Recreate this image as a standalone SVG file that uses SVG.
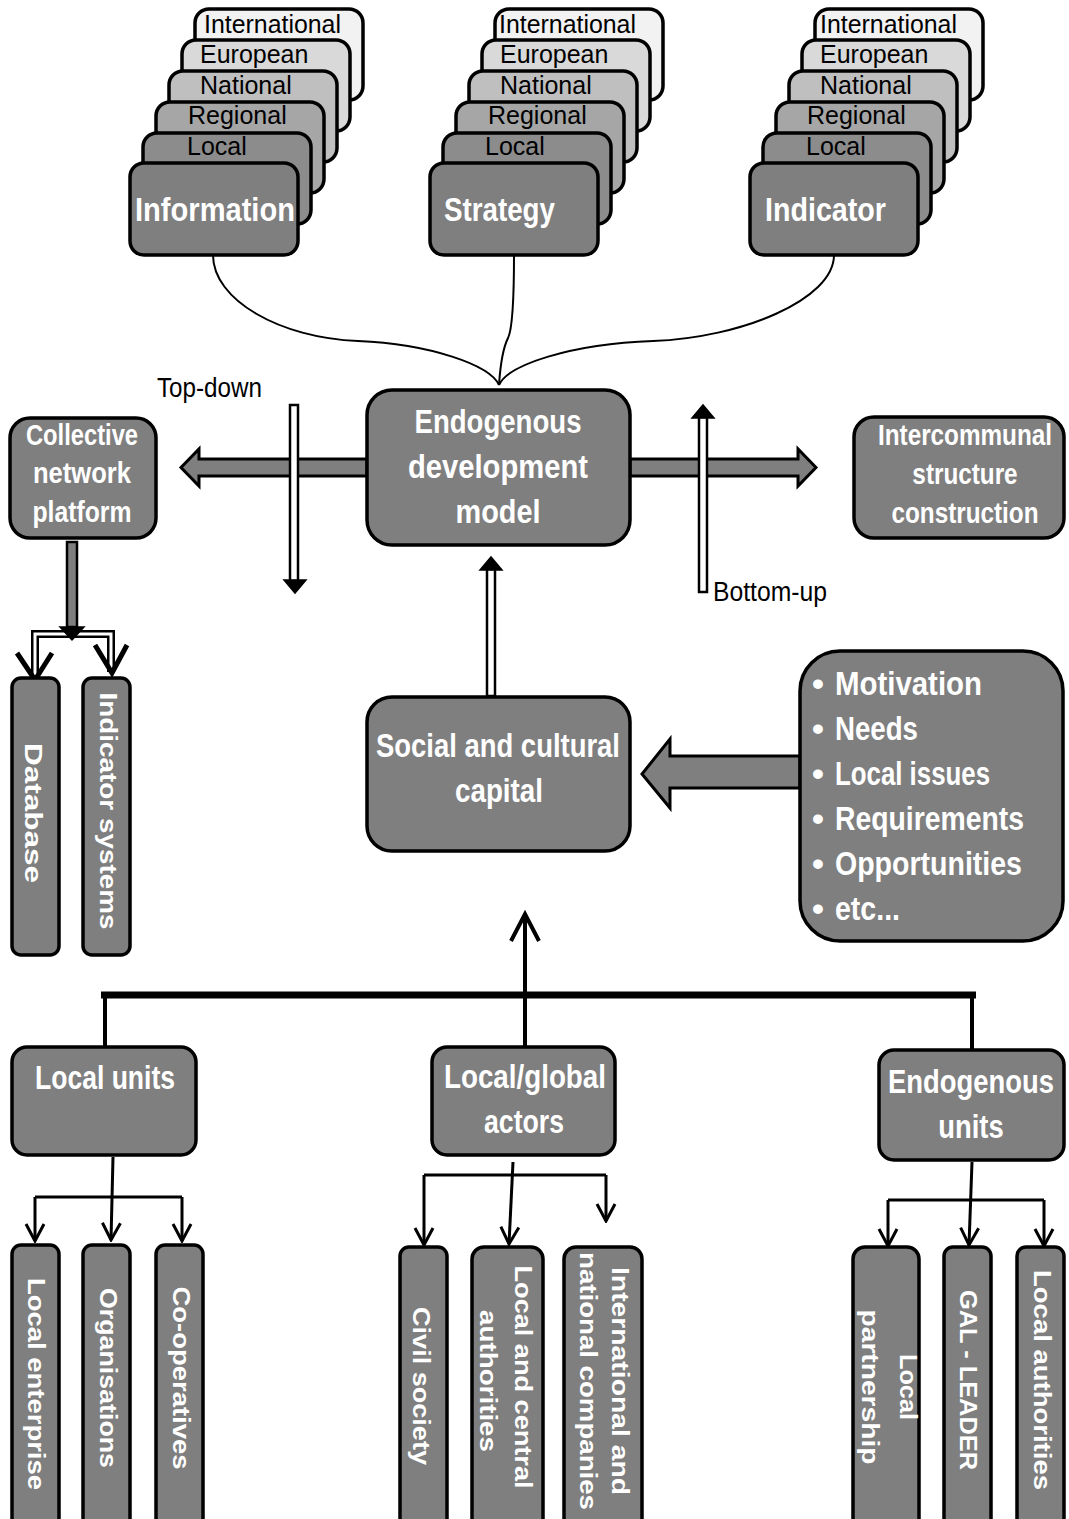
<svg xmlns="http://www.w3.org/2000/svg" width="1069" height="1519" viewBox="0 0 1069 1519">
<defs>
<style>
.box{fill:#7f7f7f;stroke:#000;stroke-width:3.5}
.lay{stroke:#000;stroke-width:3.5}
.wt{font-family:"Liberation Sans",Arial,sans-serif;font-weight:bold;fill:#fff;text-anchor:middle}
.ws{font-family:"Liberation Sans",Arial,sans-serif;font-weight:bold;fill:#fff;font-size:34px}
.lt{font-family:"Liberation Sans",Arial,sans-serif;fill:#000;font-size:25px}
.nt{font-family:"Liberation Sans",Arial,sans-serif;fill:#000;font-size:27px}
.rt{font-family:"Liberation Sans",Arial,sans-serif;font-weight:bold;fill:#fff;font-size:24px;text-anchor:middle}
.ln{fill:none;stroke:#000;stroke-width:3}
.cv{fill:none;stroke:#000;stroke-width:2}
.dbl{fill:#fff;stroke:#000;stroke-width:2.5}
.blk{fill:#7f7f7f;stroke:#000;stroke-width:3;stroke-linejoin:miter}
.hd{fill:#000;stroke:#000;stroke-width:1.5;stroke-linejoin:miter}
.ch5{fill:none;stroke:#000;stroke-width:5;stroke-linejoin:miter}
</style>
<marker id="chev" viewBox="-20 -12 22 24" markerWidth="22" markerHeight="24" refX="0" refY="0" orient="auto" markerUnits="userSpaceOnUse">
<path d="M-17,-9 L0,0 L-17,9" fill="none" stroke="#000" stroke-width="3"/>
</marker>
</defs>
<rect width="1069" height="1519" fill="#fff"/>

<g id="connectors">
<path class="cv" d="M213,255 C213,300 280,338 358,341 C430,344 490,365 499,385"/>
<path class="cv" d="M514,255 C514,290 513,328 508,338 C502,350 500,370 499,385"/>
<path class="cv" d="M834,255 C834,300 740,338 653,341 C570,344 508,365 499,385"/>
<polygon class="blk" points="367,459 199,459 199,449 181,467.5 199,486 199,476 367,476"/>
<polygon class="blk" points="630,459 798,459 798,449 816,467.5 798,486 798,476 630,476"/>
<rect class="dbl" x="290" y="405" width="8" height="176"/>
<polygon class="hd" points="284,580 306,580 295,593"/>
<rect class="dbl" x="699" y="417" width="8" height="175"/>
<polygon class="hd" points="692,418 714,418 703,405"/>
<rect class="dbl" x="487" y="569" width="8" height="127"/>
<polygon class="hd" points="480,570 502,570 491,557"/>
<path d="M35,678 L35,634 L111,634 L111,672" fill="none" stroke="#000" stroke-width="8"/>
<path d="M35,678 L35,634 L111,634 L111,672" fill="none" stroke="#fff" stroke-width="3"/>
<rect x="67" y="542" width="10" height="85" fill="#7f7f7f" stroke="#000" stroke-width="2.5"/>
<polygon class="hd" points="60,627 84,627 72,640"/>
<path class="ch5" d="M17,653 L35,680 L52,653"/>
<path class="ch5" d="M95,645 L112,673 L127,645"/>
<polygon class="blk" points="800,756 670,756 670,739 642,774 670,808 670,788 800,788"/>
<line x1="101" y1="995" x2="976" y2="995" stroke="#000" stroke-width="7"/>
<line x1="105" y1="995" x2="105" y2="1047" stroke="#000" stroke-width="4"/>
<line x1="972" y1="995" x2="972" y2="1050" stroke="#000" stroke-width="4"/>
<line x1="525" y1="1047" x2="525" y2="916" stroke="#000" stroke-width="4"/>
<path d="M511,941 L525,914 L539,941" fill="none" stroke="#000" stroke-width="4"/>
<path class="ln" d="M113,1157 L111,1240" marker-end="url(#chev)"/>
<path class="ln" d="M35,1197 L182,1197"/>
<path class="ln" d="M35,1197 L35,1241" marker-end="url(#chev)"/>
<path class="ln" d="M182,1197 L182,1241" marker-end="url(#chev)"/>
<path class="ln" d="M513,1162 L509,1244" marker-end="url(#chev)"/>
<path class="ln" d="M424,1175 L606,1175"/>
<path class="ln" d="M424,1175 L424,1245" marker-end="url(#chev)"/>
<path class="ln" d="M606,1175 L606,1221" marker-end="url(#chev)"/>
<path class="ln" d="M972,1162 L969,1245" marker-end="url(#chev)"/>
<path class="ln" d="M888,1200 L1044,1200"/>
<path class="ln" d="M888,1200 L888,1246" marker-end="url(#chev)"/>
<path class="ln" d="M1044,1200 L1044,1246" marker-end="url(#chev)"/>
</g>

<g id="stack-information" transform="translate(130,0)">
<rect class="lay" x="65" y="9" width="168" height="91" rx="14" fill="#f2f2f2"/>
<text class="lt" x="74" y="33" textLength="137" lengthAdjust="spacingAndGlyphs">International</text>
<rect class="lay" x="52" y="40" width="168" height="91" rx="14" fill="#d9d9d9"/>
<text class="lt" x="70" y="63">European</text>
<rect class="lay" x="39" y="71" width="168" height="91" rx="14" fill="#bfbfbf"/>
<text class="lt" x="70" y="94">National</text>
<rect class="lay" x="26" y="102" width="168" height="91" rx="14" fill="#a6a6a6"/>
<text class="lt" x="58" y="124">Regional</text>
<rect class="lay" x="13" y="133" width="168" height="91" rx="14" fill="#8c8c8c"/>
<text class="lt" x="57" y="155">Local</text>
<rect class="box" x="0" y="163" width="168" height="92" rx="14"/>
<text class="ws" font-size="35" x="5" y="221" textLength="160" lengthAdjust="spacingAndGlyphs">Information</text>
</g>

<g id="stack-strategy" transform="translate(430,0)">
<rect class="lay" x="65" y="9" width="168" height="91" rx="14" fill="#f2f2f2"/>
<text class="lt" x="69" y="33" textLength="137" lengthAdjust="spacingAndGlyphs">International</text>
<rect class="lay" x="52" y="40" width="168" height="91" rx="14" fill="#d9d9d9"/>
<text class="lt" x="70" y="63">European</text>
<rect class="lay" x="39" y="71" width="168" height="91" rx="14" fill="#bfbfbf"/>
<text class="lt" x="70" y="94">National</text>
<rect class="lay" x="26" y="102" width="168" height="91" rx="14" fill="#a6a6a6"/>
<text class="lt" x="58" y="124">Regional</text>
<rect class="lay" x="13" y="133" width="168" height="91" rx="14" fill="#8c8c8c"/>
<text class="lt" x="55" y="155">Local</text>
<rect class="box" x="0" y="163" width="168" height="92" rx="14"/>
<text class="ws" font-size="35" x="14" y="221" textLength="111" lengthAdjust="spacingAndGlyphs">Strategy</text>
</g>

<g id="stack-indicator" transform="translate(750,0)">
<rect class="lay" x="65" y="9" width="168" height="91" rx="14" fill="#f2f2f2"/>
<text class="lt" x="70" y="33" textLength="137" lengthAdjust="spacingAndGlyphs">International</text>
<rect class="lay" x="52" y="40" width="168" height="91" rx="14" fill="#d9d9d9"/>
<text class="lt" x="70" y="63">European</text>
<rect class="lay" x="39" y="71" width="168" height="91" rx="14" fill="#bfbfbf"/>
<text class="lt" x="70" y="94">National</text>
<rect class="lay" x="26" y="102" width="168" height="91" rx="14" fill="#a6a6a6"/>
<text class="lt" x="57" y="124">Regional</text>
<rect class="lay" x="13" y="133" width="168" height="91" rx="14" fill="#8c8c8c"/>
<text class="lt" x="56" y="155">Local</text>
<rect class="box" x="0" y="163" width="168" height="92" rx="14"/>
<text class="ws" font-size="35" x="15" y="221" textLength="121" lengthAdjust="spacingAndGlyphs">Indicator</text>
</g>

<g id="labels">
<text class="nt" x="157" y="397" textLength="105" lengthAdjust="spacingAndGlyphs">Top-down</text>
<text class="nt" x="713" y="601" textLength="114" lengthAdjust="spacingAndGlyphs">Bottom-up</text>
</g>

<g id="endogenous-model">
<rect class="box" x="367" y="390" width="263" height="155" rx="25"/>
<text class="wt" font-size="34" x="498" y="433" textLength="167" lengthAdjust="spacingAndGlyphs">Endogenous</text>
<text class="wt" font-size="34" x="498" y="478" textLength="180" lengthAdjust="spacingAndGlyphs">development</text>
<text class="wt" font-size="34" x="498" y="523" textLength="85" lengthAdjust="spacingAndGlyphs">model</text>
</g>

<g id="collective-network-platform">
<rect class="box" x="10" y="418" width="146" height="120" rx="20"/>
<text class="wt" font-size="29" x="82" y="445" textLength="112" lengthAdjust="spacingAndGlyphs">Collective</text>
<text class="wt" font-size="29" x="82" y="483" textLength="98" lengthAdjust="spacingAndGlyphs">network</text>
<text class="wt" font-size="29" x="82" y="522" textLength="99" lengthAdjust="spacingAndGlyphs">platform</text>
</g>

<g id="intercommunal-structure">
<rect class="box" x="854" y="417" width="210" height="121" rx="20"/>
<g transform="translate(965,0) scale(0.81,1)">
<text class="wt" font-size="30" x="0" y="445">Intercommunal</text>
<text class="wt" font-size="30" x="0" y="484">structure</text>
<text class="wt" font-size="30" x="0" y="523">construction</text>
</g>
</g>

<g id="database">
<rect class="box" x="12" y="678" width="47" height="277" rx="9"/>
<text class="rt" font-size="26" transform="translate(25,813) rotate(90)" textLength="140" lengthAdjust="spacingAndGlyphs">Database</text>
</g>

<g id="indicator-systems">
<rect class="box" x="83" y="678" width="47" height="277" rx="9"/>
<text class="rt" transform="translate(100,811) rotate(90)" textLength="237" lengthAdjust="spacingAndGlyphs">Indicator systems</text>
</g>

<g id="social-cultural-capital">
<rect class="box" x="367" y="697" width="263" height="154" rx="25"/>
<text class="wt" font-size="33" x="498" y="757" textLength="244" lengthAdjust="spacingAndGlyphs">Social and cultural</text>
<text class="wt" font-size="33" x="499" y="802" textLength="88" lengthAdjust="spacingAndGlyphs">capital</text>
</g>

<g id="factors">
<rect class="box" x="800" y="651" width="263" height="290" rx="40"/>
<text class="ws" x="812" y="695">•</text><text class="ws" x="835" y="695" textLength="147" lengthAdjust="spacingAndGlyphs">Motivation</text>
<text class="ws" x="812" y="740">•</text><text class="ws" x="835" y="740" textLength="83" lengthAdjust="spacingAndGlyphs">Needs</text>
<text class="ws" x="812" y="785">•</text><text class="ws" x="835" y="785" textLength="155" lengthAdjust="spacingAndGlyphs">Local issues</text>
<text class="ws" x="812" y="830">•</text><text class="ws" x="835" y="830" textLength="189" lengthAdjust="spacingAndGlyphs">Requirements</text>
<text class="ws" x="812" y="875">•</text><text class="ws" x="835" y="875" textLength="187" lengthAdjust="spacingAndGlyphs">Opportunities</text>
<text class="ws" x="812" y="920">•</text><text class="ws" x="835" y="920" textLength="65" lengthAdjust="spacingAndGlyphs">etc...</text>
</g>

<g id="local-units">
<rect class="box" x="12" y="1047" width="184" height="108" rx="15"/>
<text class="wt" font-size="33" x="105" y="1089" textLength="140" lengthAdjust="spacingAndGlyphs">Local units</text>
</g>

<g id="local-global-actors">
<rect class="box" x="432" y="1047" width="183" height="108" rx="15"/>
<text class="wt" font-size="33" x="525" y="1088" textLength="162" lengthAdjust="spacingAndGlyphs">Local/global</text>
<text class="wt" font-size="33" x="524" y="1133" textLength="80" lengthAdjust="spacingAndGlyphs">actors</text>
</g>

<g id="endogenous-units">
<rect class="box" x="879" y="1050" width="185" height="110" rx="15"/>
<g transform="translate(971,0) scale(0.83,1)">
<text class="wt" font-size="33" x="0" y="1093">Endogenous</text>
<text class="wt" font-size="33" x="0" y="1138">units</text>
</g>
</g>

<g id="local-enterprise">
<rect class="box" x="12" y="1245" width="47" height="295" rx="9"/>
<text class="rt" transform="translate(28,1384) rotate(90)" textLength="212" lengthAdjust="spacingAndGlyphs">Local enterprise</text>
</g>
<g id="organisations">
<rect class="box" x="83" y="1245" width="47" height="295" rx="9"/>
<text class="rt" transform="translate(100,1378) rotate(90)" textLength="180" lengthAdjust="spacingAndGlyphs">Organisations</text>
</g>
<g id="co-operatives">
<rect class="box" x="156" y="1245" width="47" height="295" rx="9"/>
<text class="rt" transform="translate(173,1378) rotate(90)" textLength="183" lengthAdjust="spacingAndGlyphs">Co-operatives</text>
</g>

<g id="civil-society">
<rect class="box" x="400" y="1247" width="47" height="295" rx="9"/>
<text class="rt" transform="translate(413,1386) rotate(90)" textLength="158" lengthAdjust="spacingAndGlyphs">Civil society</text>
</g>
<g id="local-central-authorities">
<rect class="box" x="472" y="1247" width="71" height="295" rx="12"/>
<text class="rt" transform="translate(515,1377) rotate(90)" textLength="223" lengthAdjust="spacingAndGlyphs">Local and central</text>
<text class="rt" transform="translate(480,1381) rotate(90)" textLength="142" lengthAdjust="spacingAndGlyphs">authorities</text>
</g>
<g id="international-national-companies">
<rect class="box" x="564" y="1247" width="78" height="295" rx="12"/>
<text class="rt" transform="translate(612,1381) rotate(90)" textLength="228" lengthAdjust="spacingAndGlyphs">International and</text>
<text class="rt" transform="translate(580,1381) rotate(90)" textLength="258" lengthAdjust="spacingAndGlyphs">national companies</text>
</g>

<g id="local-partnership">
<rect class="box" x="853" y="1247" width="66" height="295" rx="12"/>
<text class="rt" transform="translate(900,1387) rotate(90)" textLength="66" lengthAdjust="spacingAndGlyphs">Local</text>
<text class="rt" transform="translate(862,1387) rotate(90)" textLength="155" lengthAdjust="spacingAndGlyphs">partnership</text>
</g>
<g id="gal-leader">
<rect class="box" x="944" y="1247" width="47" height="295" rx="9"/>
<text class="rt" transform="translate(960,1380) rotate(90)" textLength="180" lengthAdjust="spacingAndGlyphs">GAL - LEADER</text>
</g>
<g id="local-authorities">
<rect class="box" x="1017" y="1247" width="47" height="295" rx="9"/>
<text class="rt" transform="translate(1034,1380) rotate(90)" textLength="220" lengthAdjust="spacingAndGlyphs">Local authorities</text>
</g>
</svg>
